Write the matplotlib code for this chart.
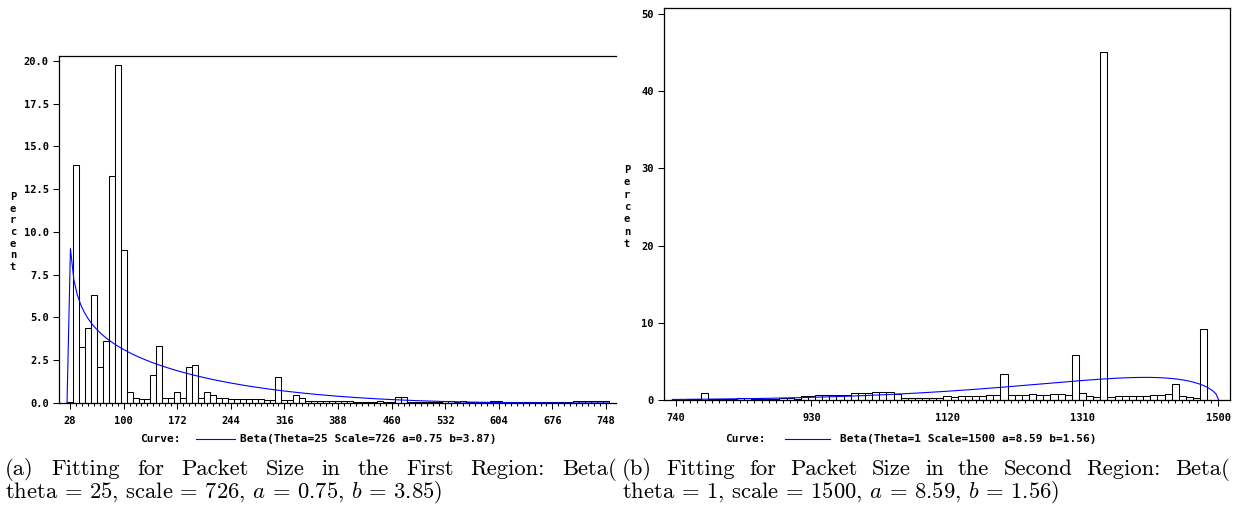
import math

import numpy as np
import matplotlib
matplotlib.use("Agg")
import matplotlib.pyplot as plt
from matplotlib.lines import Line2D

W, H = 1234, 519

# packet size histograms, percent per bin (bin midpoints)
bins1 = np.arange(28, 749, 8)
pct1 = [0.05, 13.92, 3.25, 4.38, 6.33, 2.10, 3.64, 13.24, 19.73, 8.92,
        0.66, 0.29, 0.22, 0.22, 1.66, 3.31, 0.29, 0.29, 0.62, 0.29,
        2.10, 2.20, 0.29, 0.62, 0.49, 0.29, 0.29, 0.21, 0.21, 0.21,
        0.21, 0.21, 0.21, 0.18, 0.18, 1.52, 0.18, 0.18, 0.49, 0.29,
        0.10, 0.10, 0.10, 0.10, 0.10, 0.10, 0.10, 0.10, 0.05, 0.05,
        0.05, 0.05, 0.10, 0.05, 0.05, 0.37, 0.37, 0.04, 0.04, 0.04,
        0.04, 0.04, 0.04, 0.12, 0.12, 0.04, 0.12, 0.03, 0.03, 0.03,
        0.03, 0.12, 0.12, 0.04, 0.04, 0.04, 0.04, 0.04, 0.04, 0.04,
        0.04, 0.04, 0.04, 0.04, 0.04, 0.12, 0.12, 0.12, 0.12, 0.12,
        0.12]
xticks1 = [28, 100, 172, 244, 316, 388, 460, 532, 604, 676, 748]
yticks1 = [0, 2.5, 5, 7.5, 10, 12.5, 15, 17.5, 20]

bins2 = np.arange(740, 1501, 10)
pct2 = [0.05, 0.05, 0.13, 0.13, 0.90, 0.10, 0.10, 0.10, 0.10, 0.26,
        0.26, 0.10, 0.10, 0.10, 0.10, 0.26, 0.26, 0.10, 0.52, 0.52,
        0.69, 0.69, 0.65, 0.65, 0.65, 0.86, 0.86, 0.86, 1.00, 1.00,
        1.00, 0.78, 0.32, 0.32, 0.32, 0.32, 0.32, 0.32, 0.50, 0.35,
        0.48, 0.48, 0.48, 0.48, 0.60, 0.60, 3.32, 0.60, 0.60, 0.60,
        0.73, 0.60, 0.60, 0.73, 0.73, 0.60, 5.79, 0.86, 0.48, 0.35,
        45.03, 0.35, 0.48, 0.48, 0.48, 0.48, 0.48, 0.60, 0.60, 0.73,
        2.07, 0.48, 0.35, 0.22, 9.20, 0.00, 0.00]
xticks2 = [740, 930, 1120, 1310, 1500]
yticks2 = [0, 10, 20, 30, 40, 50]

# fitted beta parameters
fit1 = dict(theta=25, scale=726, a=0.75, b=3.87)
fit2 = dict(theta=1, scale=1500, a=8.59, b=1.56)


def beta_percent(x, theta, scale, a, b, width):
    # SAS style beta density, scaled to percent per bin
    u = (x - theta) / scale
    out = np.zeros_like(x, dtype=float)
    ok = (u > 0) & (u < 1)
    lnb = math.lgamma(a) + math.lgamma(b) - math.lgamma(a + b)
    out[ok] = np.exp((a - 1) * np.log(u[ok]) + (b - 1) * np.log(1 - u[ok]) - lnb)
    return out / scale * 100 * width


mono = dict(family="DejaVu Sans Mono", weight="bold")

fig = plt.figure(figsize=(W / 100, H / 100), dpi=100)


def setup(ax, xticks, minor, yticks, yfmt):
    ax.set_xticks(xticks)
    ax.set_xticks(minor, minor=True)
    ax.set_yticks(yticks)
    ax.set_xticklabels([str(t) for t in xticks], **mono, fontsize=7.5)
    ax.set_yticklabels([yfmt % t for t in yticks], **mono, fontsize=7.5)
    ax.tick_params(axis="both", which="major", direction="out", length=4.3,
                   width=0.75, pad=3)
    ax.tick_params(axis="x", which="minor", direction="out", length=2.2,
                   width=0.75)
    ax.tick_params(axis="x", which="major", pad=5)
    for s in ax.spines.values():
        s.set_linewidth(0.9)


# left: first region
ax1 = fig.add_axes([59 / W, 1 - 403 / H, (616 - 59) / W, (403 - 56) / H])
ax1.bar(bins1, pct1, width=8, color="white", edgecolor="black", linewidth=0.75)
xs1 = np.linspace(24, 751, 160)
ax1.plot(xs1, beta_percent(xs1, width=8, **fit1), color="blue", lw=0.8, zorder=3)
ax1.set_xlim(13.2, 761.4)
ax1.set_ylim(0, 20.28)
ax1.spines["right"].set_visible(False)
setup(ax1, xticks1, bins1, yticks1, "%.1f")

# right: second region
ax2 = fig.add_axes([664 / W, 1 - 400 / H, (1230 - 664) / W, (400 - 8) / H])
ax2.bar(bins2, pct2, width=10, color="white", edgecolor="black", linewidth=0.75)
xs2 = np.linspace(735, 1501, 200)
ax2.plot(xs2, beta_percent(xs2, width=10, **fit2), color="blue", lw=0.8, zorder=3)
ax2.set_xlim(723.2, 1516.8)
ax2.set_ylim(0, 50.78)
setup(ax2, xticks2, bins2, yticks2, "%d")

# stacked axis labels
fig.text(13 / W, 1 - 232 / H, "\n".join("Percent"), ha="center", va="center",
         multialignment="center", fontsize=7.5, linespacing=1.2, **mono)
fig.text(627 / W, 1 - 207 / H, "\n".join("Percent"), ha="center", va="center",
         multialignment="center", fontsize=7.5, linespacing=1.3, **mono)

# curve legends
for x0, lx0, lx1, tx, label in [
        (140, 196, 235, 240, "Beta(Theta=25 Scale=726 a=0.75 b=3.87)"),
        (725, 785, 830, 840, "Beta(Theta=1 Scale=1500 a=8.59 b=1.56)")]:
    y = 1 - 439 / H
    fig.text(x0 / W, y, "Curve:", ha="left", va="center", fontsize=8, **mono)
    fig.add_artist(Line2D([lx0 / W, lx1 / W], [y, y], color="blue", lw=0.8,
                          transform=fig.transFigure))
    fig.text(tx / W, y, label, ha="left", va="center", fontsize=8, **mono)

# captions
plt.rcParams["mathtext.fontset"] = "cm"
cap = dict(family="cmr10", fontsize=16.3)


def justified(words, x0, x1, y):
    r = fig.canvas.get_renderer()
    ts = [fig.text(0, y, w, va="baseline", ha="left", **cap) for w in words]
    widths = [t.get_window_extent(r).width for t in ts]
    gap = (x1 - x0 - sum(widths)) / (len(words) - 1)
    x = x0
    for t, w in zip(ts, widths):
        t.set_x(x / W)
        x += w + gap


justified("(a) Fitting for Packet Size in the First Region: Beta(".split(),
          5, 617, 1 - 475 / H)
fig.text(5 / W, 1 - 498 / H,
         "theta = 25, scale = 726, $a$ = 0.75, $b$ = 3.85)",
         va="baseline", ha="left", **cap)
justified("(b) Fitting for Packet Size in the Second Region: Beta(".split(),
          622, 1230, 1 - 475 / H)
fig.text(622 / W, 1 - 498 / H,
         "theta = 1, scale = 1500, $a$ = 8.59, $b$ = 1.56)",
         va="baseline", ha="left", **cap)

fig.savefig("out.png", dpi=100)
plt.close(fig)
